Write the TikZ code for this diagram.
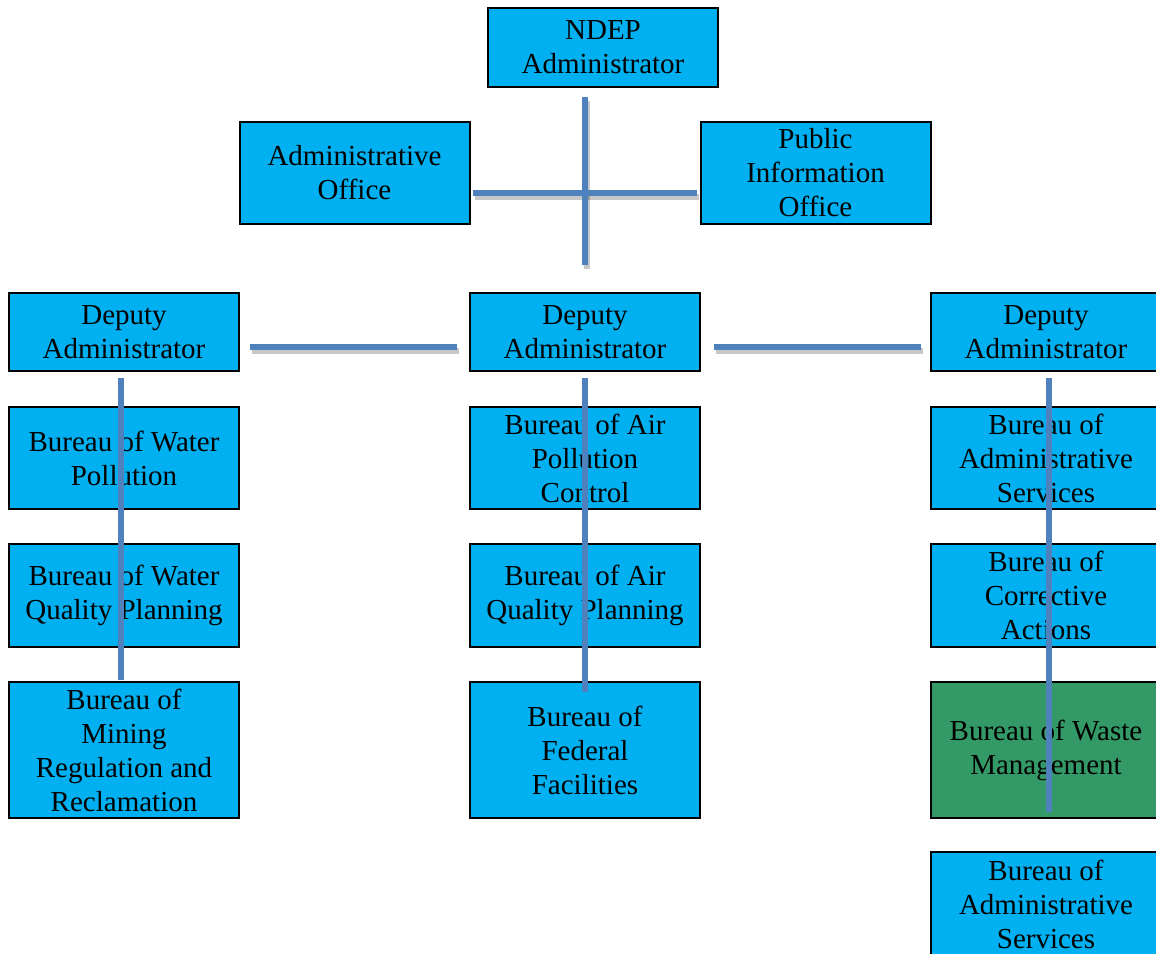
\documentclass[tikz,border=0pt]{standalone}
\usepackage{fontspec}
\setmainfont{Liberation Serif}
\definecolor{boxblue}{HTML}{00B0F0}
\definecolor{boxgreen}{HTML}{339966}
\definecolor{linkblue}{HTML}{4F81BD}
\begin{document}
\begin{tikzpicture}[x=1pt,y=1pt,
  box/.style={draw=black, line width=2pt, fill=boxblue, minimum width=230pt, inner sep=0pt, align=center, font=\fontsize{29}{34}\selectfont, text=black},
  conn/.style={draw=linkblue, line width=6pt},
  shd/.style={draw=black, opacity=0.22, line width=6pt, transform canvas={shift={(1.5pt,-4pt)}}}]
\useasboundingbox (0,0) rectangle (1156,-953);
\clip (0,0) rectangle (1156,-953);
% top
\node[box, minimum height=79pt] (ndep) at (603,-47.5) {NDEP\\Administrator};
\node[box, minimum height=102pt] (admin) at (354.5,-173) {Administrative\\Office};
\node[box, minimum height=102pt] (pio) at (815.5,-173) {Public\\Information\\Office};
% deputies
\node[box, minimum height=78pt] (depL) at (124,-332) {Deputy\\Administrator};
\node[box, minimum height=78pt] (depM) at (585,-332) {Deputy\\Administrator};
\node[box, minimum height=78pt] (depR) at (1046,-332) {Deputy\\Administrator};
% left column
\node[box, minimum height=102pt] (l1) at (124,-458) {Bureau of Water\\Pollution};
\node[box, minimum height=103pt] (l2) at (124,-595.5) {Bureau of Water\\Quality Planning};
\node[box, minimum height=136pt] (l3) at (124,-750) {Bureau of\\Mining\\Regulation and\\Reclamation};
% middle column
\node[box, minimum height=102pt] (m1) at (585,-458) {Bureau of Air\\Pollution\\Control};
\node[box, minimum height=103pt] (m2) at (585,-595.5) {Bureau of Air\\Quality Planning};
\node[box, minimum height=136pt] (m3) at (585,-750) {Bureau of\\Federal\\Facilities};
% right column
\node[box, minimum height=102pt] (r1) at (1046,-458) {Bureau of\\Administrative\\Services};
\node[box, minimum height=103pt] (r2) at (1046,-595.5) {Bureau of\\Corrective\\Actions};
\node[box, minimum height=136pt, fill=boxgreen] (r3) at (1046,-750) {Bureau of Waste\\Management};
\node[box, minimum height=104pt] (r4) at (1046,-904) {Bureau of\\Administrative\\Services};
% connector end points
\coordinate (vt1) at (585,-97);
\coordinate (vt2) at (585,-265);
\coordinate (h1) at (473,-193);
\coordinate (h2) at (697,-193);
\coordinate (dl1) at (250,-347);
\coordinate (dl2) at (457,-347);
\coordinate (dr1) at (714,-347);
\coordinate (dr2) at (921,-347);
\coordinate (vl1) at (121,-378);
\coordinate (vl2) at (121,-680);
\coordinate (vm1) at (585,-378);
\coordinate (vm2) at (585,-692);
\coordinate (vr1) at (1049,-378);
\coordinate (vr2) at (1049,-812);
% shadows
\draw[shd] (vt1) -- (vt2);
\draw[shd] (h1) -- (h2);
\draw[shd] (dl1) -- (dl2);
\draw[shd] (dr1) -- (dr2);
% connectors
\draw[conn] (vt1) -- (vt2);
\draw[conn] (h1) -- (h2);
\draw[conn] (dl1) -- (dl2);
\draw[conn] (dr1) -- (dr2);
\draw[conn] (vl1) -- (vl2);
\draw[conn] (vm1) -- (vm2);
\draw[conn] (vr1) -- (vr2);
\end{tikzpicture}
\end{document}
